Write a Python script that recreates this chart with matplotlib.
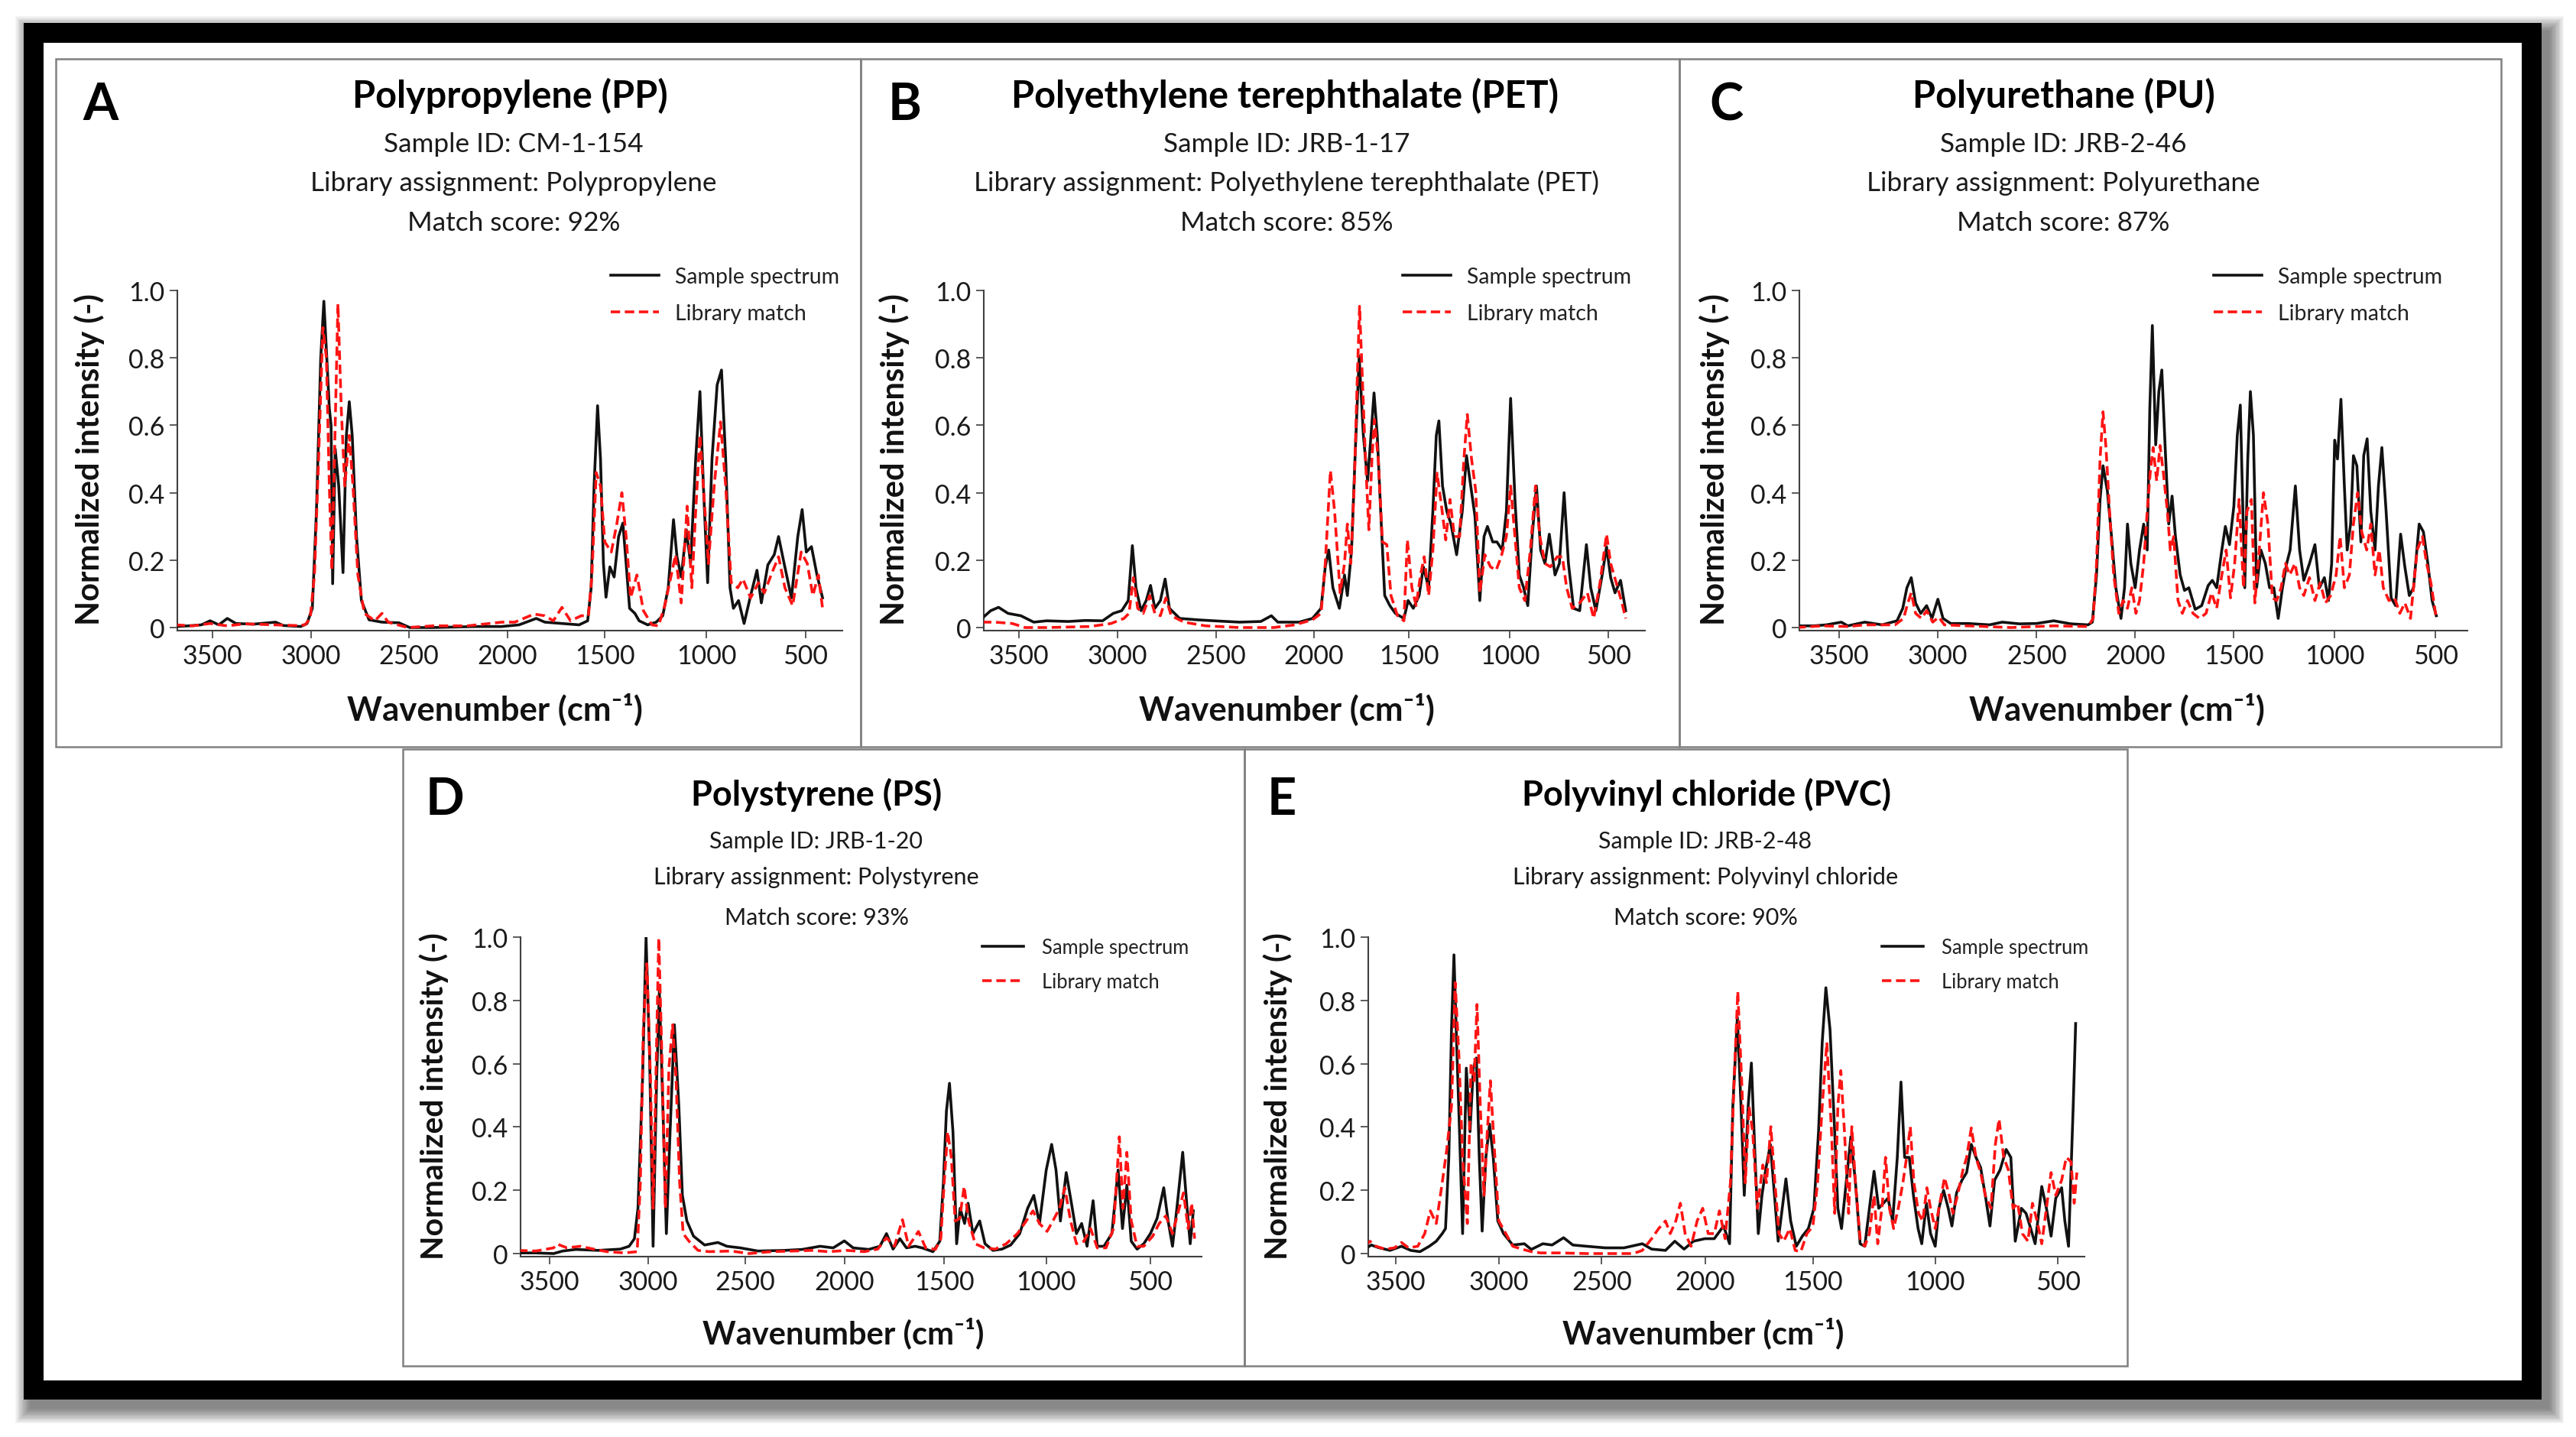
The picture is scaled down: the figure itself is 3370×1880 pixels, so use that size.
import numpy as np
import matplotlib
matplotlib.use("Agg")
import matplotlib.pyplot as plt
from matplotlib.patches import Rectangle
from matplotlib.ticker import FixedLocator, FuncFormatter

plt.rcParams['font.family'] = ['Lato', 'DejaVu Sans']

W, H, DPI = 3370, 1881, 100

# ---------------- data ----------------
pp_wn_sample = [3686, 3620, 3555, 3511, 3467, 3424, 3380, 3293, 3179, 3140, 3052, 3020, 2993, 2972, 2950, 2934, 2919, 2906, 2897, 2889, 2876, 2858, 2836, 2819, 2804, 2789, 2767, 2742, 2703, 2637, 2550, 2495, 2378, 2160, 2030, 1940, 1852, 1808, 1720, 1632, 1588, 1570, 1555, 1537, 1522, 1507, 1494, 1475, 1454, 1432, 1411, 1395, 1378, 1352, 1331, 1289, 1247, 1215, 1188, 1162, 1145, 1124, 1099, 1078, 1053, 1032, 1015, 994, 972, 946, 924, 903, 881, 864, 838, 810, 777, 745, 723, 690, 658, 636, 608, 571, 539, 517, 496, 470, 442, 414]
pp_int_sample = [.003, .005, .008, .02, .008, .027, .012, .01, .016, .006, .003, .012, .057, .345, .80, .968, .80, .65, .60, .13, .53, .42, .163, .57, .67, .57, .27, .08, .023, .016, .014, .0, .0, .003, .003, .008, .027, .016, .012, .008, .02, .118, .42, .658, .50, .19, .09, .18, .15, .27, .31, .19, .057, .042, .02, .008, .016, .035, .118, .32, .21, .15, .29, .19, .50, .70, .42, .133, .50, .72, .764, .50, .118, .057, .08, .012, .095, .17, .073, .186, .216, .27, .19, .088, .27, .35, .224, .24, .156, .088]
pp_wn_library = [3686, 3599, 3511, 3424, 3337, 3183, 3074, 3030, 3004, 2982, 2961, 2939, 2921, 2906, 2893, 2880, 2862, 2845, 2827, 2804, 2785, 2760, 2727, 2673, 2637, 2605, 2506, 2378, 2203, 2028, 1962, 1863, 1808, 1764, 1720, 1676, 1621, 1584, 1566, 1544, 1522, 1500, 1468, 1441, 1416, 1395, 1373, 1342, 1310, 1268, 1236, 1205, 1173, 1152, 1124, 1095, 1072, 1053, 1032, 1011, 990, 961, 929, 903, 875, 842, 816, 777, 738, 708, 669, 636, 604, 565, 522, 491, 463, 435, 414]
pp_int_library = [.008, .005, .012, .005, .011, .008, .006, .008, .027, .156, .50, .89, .80, .42, .17, .50, .96, .65, .42, .57, .42, .156, .042, .02, .042, .016, .0, .005, .005, .016, .016, .04, .035, .02, .06, .02, .035, .035, .156, .46, .42, .254, .224, .307, .40, .27, .088, .156, .05, .008, .005, .065, .156, .216, .073, .36, .118, .345, .57, .38, .19, .42, .61, .42, .133, .118, .144, .088, .133, .103, .163, .21, .118, .065, .224, .19, .095, .156, .057]

pet_wn_sample = [3686, 3642, 3602, 3554, 3489, 3424, 3358, 3249, 3162, 3075, 3021, 2978, 2945, 2924, 2906, 2880, 2854, 2832, 2810, 2782, 2758, 2736, 2684, 2597, 2510, 2380, 2271, 2217, 2184, 2075, 2007, 1962, 1940, 1922, 1900, 1866, 1839, 1824, 1802, 1784, 1762, 1740, 1718, 1700, 1684, 1667, 1646, 1628, 1601, 1572, 1527, 1505, 1479, 1450, 1429, 1403, 1382, 1365, 1352, 1334, 1313, 1292, 1264, 1236, 1215, 1194, 1173, 1149, 1128, 1111, 1085, 1064, 1038, 1017, 996, 974, 952, 930, 909, 887, 865, 844, 822, 800, 771, 749, 725, 703, 677, 646, 612, 590, 564, 532, 510, 489, 467, 439, 413]
pet_int_sample = [.027, .05, .06, .042, .035, .016, .02, .018, .021, .02, .042, .05, .08, .243, .118, .05, .08, .125, .057, .08, .144, .057, .027, .023, .02, .016, .018, .035, .016, .016, .027, .057, .18, .23, .118, .057, .156, .095, .23, .50, .805, .57, .435, .57, .696, .57, .307, .095, .065, .042, .027, .08, .057, .095, .18, .118, .345, .57, .613, .42, .345, .307, .216, .345, .51, .42, .33, .08, .27, .30, .254, .254, .23, .345, .68, .38, .156, .118, .065, .27, .42, .23, .19, .277, .156, .19, .40, .19, .057, .05, .246, .118, .05, .156, .24, .148, .103, .14, .05]
pet_wn_library = [3686, 3620, 3533, 3467, 3358, 3140, 3032, 2967, 2941, 2919, 2897, 2869, 2836, 2810, 2782, 2754, 2727, 2662, 2553, 2380, 2205, 2097, 2007, 1962, 1940, 1913, 1891, 1862, 1839, 1824, 1806, 1788, 1773, 1760, 1744, 1729, 1711, 1695, 1682, 1662, 1640, 1617, 1595, 1561, 1527, 1509, 1486, 1465, 1443, 1425, 1403, 1382, 1361, 1339, 1318, 1297, 1275, 1249, 1228, 1211, 1190, 1169, 1149, 1124, 1096, 1068, 1043, 1017, 996, 974, 952, 924, 896, 870, 848, 822, 794, 760, 734, 712, 684, 646, 607, 575, 543, 510, 489, 461, 435, 413]
pet_int_library = [.016, .016, .012, .0, .0, .003, .012, .027, .042, .148, .057, .042, .095, .042, .035, .088, .035, .016, .005, .0, .0, .008, .023, .042, .19, .466, .345, .103, .19, .307, .19, .42, .72, .953, .72, .50, .29, .50, .617, .50, .254, .246, .095, .035, .02, .26, .118, .065, .156, .21, .095, .23, .458, .36, .26, .38, .27, .27, .50, .632, .50, .405, .103, .216, .18, .17, .21, .27, .42, .27, .118, .08, .23, .42, .27, .19, .18, .21, .21, .118, .057, .073, .103, .027, .133, .277, .19, .133, .08, .027]

pu_wn_sample = [3717, 3630, 3565, 3489, 3457, 3370, 3283, 3207, 3178, 3157, 3135, 3113, 3087, 3057, 3030, 3000, 2974, 2935, 2848, 2739, 2674, 2587, 2500, 2413, 2326, 2239, 2217, 2196, 2178, 2163, 2141, 2120, 2098, 2072, 2054, 2039, 2022, 2000, 1978, 1957, 1939, 1926, 1913, 1896, 1880, 1865, 1848, 1830, 1813, 1796, 1772, 1750, 1728, 1696, 1663, 1630, 1609, 1587, 1561, 1543, 1522, 1500, 1483, 1468, 1446, 1431, 1418, 1403, 1387, 1366, 1344, 1323, 1302, 1280, 1259, 1238, 1221, 1195, 1174, 1153, 1125, 1098, 1076, 1051, 1031, 1015, 1000, 986, 969, 952, 938, 921, 907, 890, 870, 856, 839, 821, 800, 783, 766, 745, 720, 698, 673, 652, 630, 609, 581, 560, 538, 517, 496]
pu_int_sample = [.005, .005, .008, .016, .005, .016, .008, .02, .057, .118, .148, .073, .042, .065, .027, .084, .027, .012, .012, .008, .016, .011, .012, .02, .011, .008, .016, .156, .38, .48, .405, .27, .118, .027, .118, .307, .19, .118, .23, .307, .23, .647, .896, .542, .70, .764, .534, .307, .39, .27, .156, .11, .118, .054, .065, .125, .14, .118, .23, .30, .246, .36, .57, .66, .118, .50, .70, .57, .118, .23, .19, .118, .118, .027, .118, .19, .23, .42, .23, .14, .19, .246, .118, .148, .08, .19, .556, .50, .677, .42, .23, .307, .51, .48, .254, .51, .56, .345, .23, .42, .534, .345, .088, .065, .277, .18, .095, .118, .307, .284, .19, .08, .035]
pu_wn_library = [3717, 3587, 3457, 3370, 3217, 3174, 3152, 3135, 3113, 3083, 3057, 3026, 2996, 2967, 2848, 2630, 2413, 2239, 2213, 2196, 2178, 2163, 2148, 2130, 2109, 2083, 2061, 2039, 2017, 1996, 1978, 1957, 1939, 1924, 1909, 1891, 1874, 1857, 1837, 1822, 1805, 1783, 1761, 1735, 1707, 1674, 1641, 1613, 1587, 1561, 1539, 1517, 1496, 1474, 1452, 1435, 1413, 1396, 1374, 1353, 1331, 1309, 1287, 1266, 1244, 1223, 1197, 1174, 1153, 1125, 1098, 1072, 1046, 1020, 993, 973, 952, 927, 907, 886, 866, 841, 821, 800, 779, 759, 731, 703, 677, 652, 624, 591, 565, 544, 523, 496]
pu_int_library = [.0, .005, .003, .008, .008, .027, .073, .103, .042, .027, .05, .016, .031, .008, .005, .0, .005, .003, .027, .19, .50, .64, .534, .345, .156, .042, .08, .057, .118, .042, .08, .19, .345, .458, .534, .435, .54, .458, .345, .23, .27, .08, .042, .08, .042, .027, .042, .103, .057, .156, .23, .088, .19, .38, .118, .345, .38, .073, .23, .40, .307, .088, .08, .118, .19, .156, .19, .118, .095, .148, .08, .133, .073, .095, .156, .27, .118, .156, .307, .40, .284, .23, .307, .156, .23, .118, .08, .088, .042, .073, .027, .23, .27, .19, .133, .027]

ps_wn_sample = [3658, 3568, 3478, 3432, 3365, 3252, 3140, 3095, 3068, 3050, 3027, 3009, 2991, 2973, 2955, 2941, 2923, 2905, 2886, 2864, 2841, 2823, 2800, 2766, 2709, 2641, 2595, 2527, 2437, 2303, 2213, 2123, 2056, 2000, 1956, 1878, 1822, 1789, 1756, 1722, 1689, 1645, 1611, 1556, 1522, 1504, 1489, 1474, 1457, 1439, 1422, 1400, 1383, 1359, 1326, 1300, 1261, 1217, 1174, 1130, 1091, 1061, 1033, 1000, 974, 953, 932, 904, 879, 855, 830, 804, 775, 755, 723, 685, 655, 634, 613, 592, 564, 532, 500, 468, 436, 415, 394, 373, 345, 324, 309, 294]
ps_int_sample = [.002, .002, .0, .008, .013, .01, .014, .023, .047, .143, .546, 1.0, .626, .023, .546, .83, .465, .063, .385, .723, .465, .184, .103, .055, .027, .035, .023, .018, .008, .01, .013, .023, .018, .04, .018, .013, .023, .063, .014, .047, .018, .023, .018, .006, .039, .224, .45, .538, .385, .031, .143, .095, .159, .063, .103, .031, .01, .014, .027, .063, .143, .184, .095, .264, .345, .264, .103, .256, .159, .063, .095, .023, .167, .023, .023, .063, .264, .079, .216, .039, .014, .031, .063, .111, .208, .103, .023, .143, .32, .143, .031, .135]
ps_wn_library = [3658, 3568, 3478, 3460, 3410, 3342, 3275, 3207, 3118, 3054, 3038, 3023, 3005, 2986, 2973, 2959, 2944, 2928, 2910, 2892, 2873, 2855, 2837, 2819, 2789, 2743, 2686, 2573, 2482, 2370, 2258, 2168, 2078, 1989, 1900, 1833, 1789, 1749, 1709, 1678, 1629, 1593, 1544, 1517, 1500, 1483, 1465, 1446, 1424, 1402, 1380, 1348, 1304, 1250, 1196, 1141, 1098, 1065, 1033, 996, 968, 936, 911, 883, 855, 819, 787, 755, 713, 677, 649, 632, 613, 592, 564, 532, 489, 458, 426, 394, 362, 341, 319, 302, 288]
ps_int_library = [.01, .008, .018, .03, .018, .023, .014, .006, .002, .006, .224, .707, .916, .546, .143, .546, .997, .626, .143, .586, .723, .546, .224, .063, .039, .01, .006, .008, .0, .006, .008, .01, .006, .01, .006, .014, .05, .023, .107, .023, .07, .018, .013, .047, .224, .385, .304, .103, .111, .212, .103, .031, .018, .014, .031, .063, .103, .135, .095, .07, .103, .143, .208, .103, .031, .039, .079, .018, .018, .079, .369, .143, .32, .103, .023, .023, .055, .095, .119, .063, .143, .192, .079, .159, .047]

pvc_wn_sample = [3653, 3620, 3586, 3529, 3473, 3428, 3383, 3338, 3304, 3275, 3259, 3243, 3230, 3218, 3207, 3191, 3176, 3158, 3140, 3124, 3109, 3095, 3081, 3063, 3045, 3027, 3005, 2977, 2932, 2876, 2842, 2786, 2741, 2685, 2640, 2572, 2482, 2392, 2303, 2258, 2191, 2146, 2101, 2056, 2000, 1957, 1914, 1886, 1871, 1850, 1833, 1818, 1800, 1785, 1768, 1753, 1736, 1719, 1697, 1678, 1661, 1642, 1625, 1603, 1577, 1549, 1521, 1496, 1477, 1462, 1447, 1430, 1411, 1398, 1383, 1364, 1345, 1326, 1307, 1288, 1269, 1250, 1231, 1212, 1193, 1174, 1155, 1140, 1125, 1106, 1089, 1070, 1055, 1036, 1019, 1000, 985, 966, 947, 932, 913, 891, 872, 853, 834, 815, 796, 777, 758, 736, 711, 692, 674, 649, 630, 611, 593, 566, 547, 528, 509, 485, 472, 457, 438, 428]
pvc_int_sample = [.013, .027, .019, .01, .023, .01, .006, .023, .039, .063, .079, .304, .707, .944, .707, .385, .063, .586, .385, .586, .618, .304, .071, .304, .409, .304, .103, .063, .027, .031, .013, .031, .027, .05, .027, .023, .018, .018, .031, .014, .01, .039, .014, .039, .047, .047, .087, .031, .465, .747, .465, .184, .465, .602, .304, .063, .184, .264, .345, .184, .039, .143, .236, .103, .023, .055, .079, .143, .385, .667, .84, .707, .385, .143, .079, .224, .369, .224, .031, .023, .143, .26, .143, .159, .175, .103, .304, .542, .304, .304, .184, .079, .031, .159, .063, .023, .143, .20, .143, .087, .192, .232, .256, .345, .304, .272, .184, .087, .232, .264, .329, .304, .039, .143, .127, .079, .031, .212, .143, .055, .175, .208, .103, .023, .465, .727]
pvc_wn_library = [3653, 3626, 3597, 3552, 3507, 3473, 3439, 3394, 3360, 3333, 3304, 3275, 3253, 3230, 3212, 3194, 3176, 3153, 3135, 3120, 3106, 3090, 3072, 3056, 3041, 3023, 3000, 2966, 2932, 2887, 2842, 2797, 2707, 2572, 2437, 2347, 2303, 2258, 2224, 2191, 2168, 2141, 2119, 2096, 2067, 2038, 2011, 1985, 1957, 1933, 1907, 1882, 1865, 1848, 1830, 1813, 1796, 1779, 1757, 1732, 1715, 1695, 1676, 1657, 1635, 1607, 1582, 1556, 1528, 1500, 1481, 1462, 1443, 1424, 1411, 1398, 1386, 1371, 1354, 1341, 1326, 1307, 1288, 1269, 1250, 1235, 1216, 1203, 1187, 1170, 1151, 1132, 1117, 1102, 1087, 1068, 1051, 1034, 1019, 1000, 981, 962, 943, 928, 909, 887, 872, 853, 834, 815, 796, 773, 755, 740, 721, 702, 683, 664, 645, 622, 604, 585, 566, 547, 528, 509, 485, 466, 447, 434, 423]
pvc_int_library = [.023, .039, .023, .014, .018, .035, .018, .023, .063, .135, .095, .224, .329, .465, .856, .626, .304, .095, .602, .546, .787, .465, .184, .385, .546, .345, .103, .063, .023, .014, .006, .002, .002, .0, .0, .0, .01, .047, .079, .103, .063, .103, .159, .063, .023, .103, .143, .063, .063, .135, .047, .224, .546, .828, .546, .224, .465, .385, .143, .28, .224, .401, .224, .063, .039, .079, .01, .006, .063, .087, .224, .465, .667, .385, .127, .465, .578, .385, .127, .401, .224, .047, .023, .063, .184, .031, .159, .304, .143, .079, .143, .224, .304, .401, .224, .127, .103, .208, .143, .079, .159, .24, .184, .127, .184, .264, .304, .397, .304, .256, .184, .143, .345, .425, .304, .264, .143, .159, .063, .039, .159, .103, .031, .143, .256, .184, .232, .304, .29, .159, .256]

xtick_values = [3500, 3000, 2500, 2000, 1500, 1000, 500]
ytick_values = [0, 0.2, 0.4, 0.6, 0.8, 1.0]

panel_letters = ['A', 'B', 'C', 'D', 'E']
polymer_titles = ['Polypropylene (PP)', 'Polyethylene terephthalate (PET)', 'Polyurethane (PU)',
                  'Polystyrene (PS)', 'Polyvinyl chloride (PVC)']
sample_ids = ['CM-1-154', 'JRB-1-17', 'JRB-2-46', 'JRB-1-20', 'JRB-2-48']
library_assignments = ['Polypropylene', 'Polyethylene terephthalate (PET)', 'Polyurethane',
                       'Polystyrene', 'Polyvinyl chloride']
match_scores = [92, 85, 87, 93, 90]
legend_labels = ['Sample spectrum', 'Library match']

sample_wn = [pp_wn_sample, pet_wn_sample, pu_wn_sample, ps_wn_sample, pvc_wn_sample]
sample_int = [pp_int_sample, pet_int_sample, pu_int_sample, ps_int_sample, pvc_int_sample]
library_wn = [pp_wn_library, pet_wn_library, pu_wn_library, ps_wn_library, pvc_wn_library]
library_int = [pp_int_library, pet_int_library, pu_int_library, ps_int_library, pvc_int_library]

# ---------------- layout (pixel positions) ----------------
top = dict(y1=381, y0=822, title_y=141, sub_ys=(199, 250, 302), leg_top=350, leg_gap=7.0,
           xlabel_y=928, fs_title=35, fs_sub=25.3, fs_leg=20.5, fs_ylab=30, fs_xlab=31.5,
           letter_y=157, hl=2.2, htp=0.75)
bot = dict(y1=1227, y0=1641, title_y=1054, sub_ys=(1110, 1157, 1210), leg_top=1228, leg_gap=7.0,
           xlabel_y=1744, fs_title=32.5, fs_sub=22, fs_leg=18.4, fs_ylab=29.5, fs_xlab=30,
           letter_y=1066, hl=2.1, htp=0.95)
layout = [
    dict(row=top, box=(73, 78, 1126, 978), left=232, right=1102,
         tick_px=[277.7, 406.8, 534.7, 663.8, 791.2, 924.2, 1053.8],
         letter_x=108, title_x=667, sub_x=672, leg_x=799, ylabel_x=117, xlabel_x=647),
    dict(row=top, box=(1126, 78, 2197, 978), left=1287, right=2152,
         tick_px=[1332.7, 1461.8, 1590.8, 1718.8, 1843.4, 1975.2, 2104.3],
         letter_x=1162, title_x=1681, sub_x=1683, leg_x=1835, ylabel_x=1170, xlabel_x=1683),
    dict(row=top, box=(2197, 78, 3272, 978), left=2354, right=3228,
         tick_px=[2406.1, 2535.2, 2664.3, 2793.3, 2922.4, 3054.3, 3186.2],
         letter_x=2236, title_x=2700, sub_x=2699, leg_x=2896, ylabel_x=2243, xlabel_x=2769),
    dict(row=bot, box=(527, 981, 1628, 1788), left=681, right=1572,
         tick_px=[718.6, 847.5, 975.2, 1104.6, 1235.2, 1368.7, 1505.0],
         letter_x=557, title_x=1068, sub_x=1068, leg_x=1285, ylabel_x=568, xlabel_x=1103),
    dict(row=bot, box=(1628, 981, 2783, 1788), left=1790, right=2727,
         tick_px=[1826.2, 1960.8, 2095.3, 2230.5, 2371.7, 2531.7, 2692.3],
         letter_x=1658, title_x=2232, sub_x=2231, leg_x=2462, ylabel_x=1672, xlabel_x=2228),
]

fig = plt.figure(figsize=(W / DPI, H / DPI), dpi=DPI)
fig.patch.set_facecolor('white')


def fx(x):
    return x / W


def fy(y):
    return 1 - y / H


# background: drop shadow, black frame, panel boxes
bg = fig.add_axes([0, 0, 1, 1], zorder=-10)
bg.set_xlim(0, W)
bg.set_ylim(H, 0)
bg.axis('off')
sx0, sy0, sx1, sy1 = 31 + 9, 31 + 11, 3325 + 9, 1832 + 11
for k in range(16):
    g = 20 - 1.25 * k
    bg.add_patch(Rectangle((sx0 - g, sy0 - g), (sx1 - sx0) + 2 * g, (sy1 - sy0) + 2 * g,
                           facecolor='black', edgecolor='none', alpha=0.035))
bg.add_patch(Rectangle((31, 31), 3325 - 31, 1832 - 31, facecolor='black', edgecolor='none'))
bg.add_patch(Rectangle((57, 57), 3299 - 57, 1807 - 57, facecolor='white', edgecolor='none'))
for spec in layout:
    x0, y0, x1, y1 = spec['box']
    bg.add_patch(Rectangle((x0, y0), x1 - x0, y1 - y0, fill=False, edgecolor='#808080', lw=1.8))


def set_piecewise_x(ax, tick_px, left_px, right_px):
    wn = np.array(xtick_values[::-1], dtype=float)
    px = np.array(tick_px[::-1], dtype=float)
    s_lo = (px[1] - px[0]) / (wn[1] - wn[0])
    s_hi = (px[-1] - px[-2]) / (wn[-1] - wn[-2])
    wn_e = np.r_[wn[0] - 2000, wn, wn[-1] + 2000]
    px_e = np.r_[px[0] - 2000 * s_lo, px, px[-1] + 2000 * s_hi]

    def fwd(x):
        return np.interp(x, wn_e, -px_e)

    def inv(y):
        return np.interp(y, -px_e, wn_e)

    ax.set_xscale('function', functions=(fwd, inv))
    ax.set_xlim(float(inv(-left_px)), float(inv(-right_px)))


spine_c = '#404040'
for i, spec in enumerate(layout):
    row = spec['row']
    L, R = spec['left'], spec['right']
    T, Z = row['y1'], row['y0']
    B = Z + 0.01 * (Z - T)
    ax = fig.add_axes([fx(L), fy(B), (R - L) / W, (B - T) / H])
    ax.patch.set_alpha(0)
    set_piecewise_x(ax, spec['tick_px'], L, R)
    ax.set_ylim(-0.01, 1.0)

    l1, = ax.plot(sample_wn[i], sample_int[i], color='#111111', lw=2.6, solid_joinstyle='round',
                  label=legend_labels[0], zorder=3)
    l2, = ax.plot(library_wn[i], library_int[i], color='#ff1414', lw=2.6,
                  linestyle=(0, (3.4, 1.7)), label=legend_labels[1], zorder=4)

    for s in ['top', 'right']:
        ax.spines[s].set_visible(False)
    for s in ['left', 'bottom']:
        ax.spines[s].set_color(spine_c)
        ax.spines[s].set_linewidth(1.5)
    ax.xaxis.set_major_locator(FixedLocator(xtick_values))
    ax.xaxis.set_minor_locator(FixedLocator([]))
    ax.xaxis.set_major_formatter(FuncFormatter(lambda v, p: f'{int(round(v))}'))
    ax.yaxis.set_major_locator(FixedLocator(ytick_values))
    ax.yaxis.set_major_formatter(FuncFormatter(lambda v, p: '0' if abs(v) < 1e-9 else f'{v:.1f}'))
    ax.tick_params(axis='both', direction='out', length=7, width=1.2, color=spine_c,
                   labelsize=24.4, labelcolor='#1a1a1a')
    ax.tick_params(axis='y', pad=5)
    ax.tick_params(axis='x', pad=5)

    # legend
    f_px = row['fs_leg'] / 72 * DPI
    lab_sp = 0.52 + row['leg_gap'] / f_px
    leg = ax.legend(handles=[l1, l2], loc='upper left',
                    bbox_to_anchor=(fx(spec['leg_x']), fy(row['leg_top'])),
                    bbox_transform=fig.transFigure, frameon=False, fontsize=row['fs_leg'],
                    borderpad=0, borderaxespad=0, handlelength=row['hl'],
                    handletextpad=row['htp'], labelspacing=lab_sp)
    for t in leg.get_texts():
        t.set_color('#222222')

    # texts
    fig.text(fx(spec['letter_x']), fy(row['letter_y']), panel_letters[i], ha='left', va='baseline',
             fontsize=48, fontweight='bold', color='black')
    fig.text(fx(spec['title_x']), fy(row['title_y']), polymer_titles[i], ha='center', va='baseline',
             fontsize=row['fs_title'], fontweight='bold', color='black')
    subs = [f'Sample ID: {sample_ids[i]}', f'Library assignment: {library_assignments[i]}',
            f'Match score: {match_scores[i]}%']
    for s, yy in zip(subs, row['sub_ys']):
        fig.text(fx(spec['sub_x']), fy(yy), s, ha='center', va='baseline',
                 fontsize=row['fs_sub'], color='#1a1a1a')
    fig.text(fx(spec['ylabel_x']), fy((T + Z) / 2), 'Normalized intensity (-)', rotation=90,
             ha='center', va='center', fontsize=row['fs_ylab'], fontweight='bold', color='#111111')
    fig.text(fx(spec['xlabel_x']), fy(row['xlabel_y']), 'Wavenumber (cm\u207b\u00b9)',
             ha='center', va='center', fontsize=row['fs_xlab'], fontweight='bold', color='#111111')

fig.savefig('out.png', dpi=DPI, facecolor='white')
